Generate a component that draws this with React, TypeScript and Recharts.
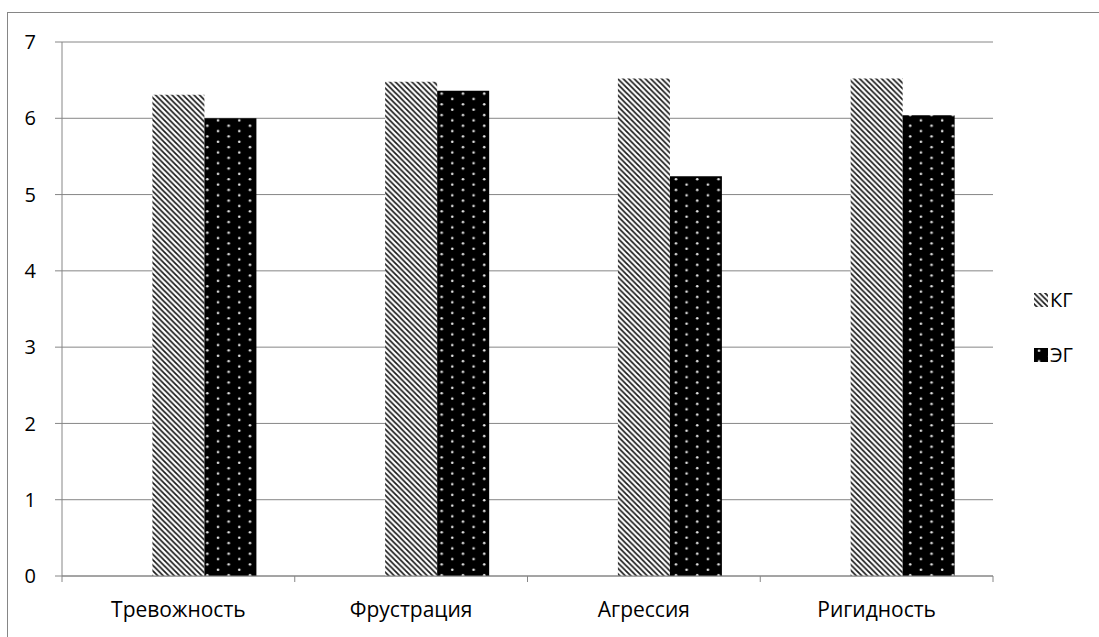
import React from 'react';
import { BarChart, Bar, XAxis, YAxis, CartesianGrid, Legend } from 'recharts';

const categories = ['Тревожность', 'Фрустрация', 'Агрессия', 'Ригидность'];
const kgValues = [6.31, 6.48, 6.52, 6.52];
const egValues = [6.0, 6.36, 5.24, 6.04];
const yTicks = [0, 1, 2, 3, 4, 5, 6, 7];

const series = [
  { key: 'kg', name: 'КГ', fill: 'url(#kgHatch)' },
  { key: 'eg', name: 'ЭГ', fill: 'url(#egDots)' },
];

const data = categories.map((name, i) => ({ name, kg: kgValues[i], eg: egValues[i] }));

const AXIS = '#868686';
const FONT = '"Open Sans", sans-serif';
const W = 1099;
const H = 637;
const LEFT = 62;
const RIGHT = 106;
const TOP = 42;
const BOTTOM = 61;
const BAND = (W - LEFT - RIGHT) / categories.length;
const AXIS_Y = H - BOTTOM;

// x ticks sit between the categories, like an office chart
const CategoryTick = (props: any) => {
  const { x, y, payload, index } = props;
  const half = BAND / 2;
  return (
    <g>
      <line x1={x - half} x2={x - half} y1={AXIS_Y} y2={AXIS_Y + 6} stroke={AXIS} />
      {index === categories.length - 1 && (
        <line x1={x + half} x2={x + half} y1={AXIS_Y} y2={AXIS_Y + 6} stroke={AXIS} />
      )}
      <text x={x} y={y} dy="0.71em" textAnchor="middle" fill="#000" fontSize={21} fontFamily={FONT}>
        {payload.value}
      </text>
    </g>
  );
};

const Patterns = () => (
  <defs>
    <pattern id="kgHatch" patternUnits="userSpaceOnUse" width={5.5} height={5.5}>
      <rect width={5.5} height={5.5} fill="#fff" />
      <path d="M-1,-1 L6.5,6.5 M4.5,-1 L6.5,1 M-1,4.5 L1,6.5" stroke="#1a1a1a" strokeWidth={1.7} />
    </pattern>
    <pattern id="egDots" patternUnits="userSpaceOnUse" width={21.3} height={10.7}>
      <rect width={21.3} height={10.7} fill="#000" />
      <circle cx={5} cy={2.7} r={1.3} fill="#e4e4e4" />
      <circle cx={15.65} cy={8} r={1.3} fill="#e4e4e4" />
    </pattern>
  </defs>
);

const renderLegend = () => (
  <div style={{ display: 'flex', flexDirection: 'column', gap: 41 }}>
    {series.map((s) => (
      <div key={s.key} style={{ display: 'flex', alignItems: 'center', height: 14 }}>
        <svg width={14} height={14}>
          <rect width={14} height={14} fill={s.fill} />
        </svg>
        <span style={{ marginLeft: 2, fontSize: 20, fontFamily: FONT, color: '#000', lineHeight: '14px' }}>
          {s.name}
        </span>
      </div>
    ))}
  </div>
);

export default function App() {
  return (
    <div style={{ position: 'fixed', left: 0, top: 0, width: W, height: H, overflow: 'hidden', background: '#fff' }}>
      <div
        style={{
          position: 'absolute',
          left: 7,
          top: 12,
          width: 1200,
          height: 700,
          border: `1px solid ${AXIS}`,
        }}
      />
      <div style={{ position: 'absolute', left: 0, top: 0 }}>
        <BarChart
          width={W}
          height={H}
          data={data}
          margin={{ top: TOP, right: RIGHT, bottom: 0, left: 0 }}
          barCategoryGap="16.5%"
          barGap={0}
        >
          <Patterns />
          <CartesianGrid vertical={false} stroke={AXIS} />
          <XAxis
            dataKey="name"
            height={BOTTOM}
            axisLine={{ stroke: AXIS }}
            tickLine={false}
            tickSize={5}
            tickMargin={21}
            tick={<CategoryTick />}
            interval={0}
          />
          <YAxis
            width={LEFT}
            domain={[0, 7]}
            ticks={yTicks}
            interval={0}
            axisLine={{ stroke: AXIS }}
            tickLine={{ stroke: AXIS }}
            tickSize={7}
            tickMargin={19}
            tick={{ fill: '#000', fontSize: 20, fontFamily: FONT }}
          />
          <Legend
            layout="vertical"
            align="center"
            verticalAlign="middle"
            wrapperStyle={{ left: 1034, top: 293, width: 60 }}
            content={renderLegend}
          />
          {/* empty slot ahead of the two groups keeps the bars right of centre */}
          <Bar dataKey="spacer" legendType="none" isAnimationActive={false} />
          {series.map((s) => (
            <Bar key={s.key} dataKey={s.key} name={s.name} fill={s.fill} isAnimationActive={false} />
          ))}
        </BarChart>
      </div>
    </div>
  );
}
